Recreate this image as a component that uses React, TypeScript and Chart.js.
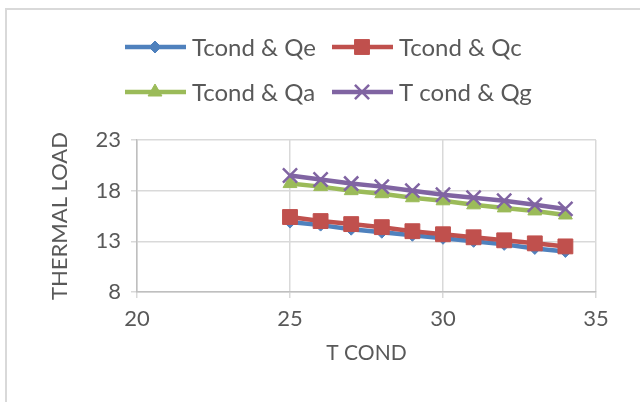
import React, { useEffect, useRef } from "react";
import { Chart, registerables } from "chart.js";
import { drawPoint } from "chart.js/helpers";

Chart.register(...registerables);

const tCond = [25, 26, 27, 28, 29, 30, 31, 32, 33, 34];
const qe = [14.9, 14.6, 14.2, 13.9, 13.6, 13.3, 13.0, 12.7, 12.3, 12.0];
const qc = [15.4, 15.0, 14.7, 14.4, 14.0, 13.7, 13.4, 13.1, 12.8, 12.5];
const qa = [18.7, 18.4, 18.0, 17.7, 17.3, 17.0, 16.6, 16.3, 16.0, 15.6];
const qg = [19.5, 19.1, 18.7, 18.4, 18.0, 17.6, 17.3, 17.0, 16.6, 16.2];
const seriesNames = ["Tcond & Qe", "Tcond & Qc", "Tcond & Qa", "T cond & Qg"];
const xTicks = [20, 25, 30, 35];
const yTicks = [8, 13, 18, 23];

const FONT = "Lato, 'Open Sans', sans-serif";
const TEXT = "#595959";

const legendPlugin = {
  id: "excelLegend",
  afterDraw(chart: any) {
    const ctx = chart.ctx;
    const cols = [125, 332];
    const rows = [47, 92];
    ctx.save();
    ctx.font = `24px ${FONT}`;
    ctx.textBaseline = "middle";
    ctx.textAlign = "left";
    chart.data.datasets.forEach((ds: any, i: number) => {
      const x = cols[i % 2];
      const y = rows[Math.floor(i / 2)];
      ctx.strokeStyle = ds.borderColor;
      ctx.lineWidth = 4.5;
      ctx.beginPath();
      ctx.moveTo(x, y);
      ctx.lineTo(x + 61, y);
      ctx.stroke();
      ctx.fillStyle = ds.pointBackgroundColor;
      ctx.strokeStyle = ds.pointBorderColor;
      ctx.lineWidth = ds.pointBorderWidth;
      drawPoint(ctx, { pointStyle: ds.pointStyle, radius: ds.pointRadius, borderWidth: ds.pointBorderWidth, rotation: 0 }, x + 30, y);
      ctx.fillStyle = TEXT;
      ctx.fillText(ds.label, x + 67, y + 1);
    });
    ctx.restore();
  },
};

export default function App() {
  const ref = useRef<HTMLCanvasElement>(null);
  useEffect(() => {
    const mk = (label: string, vals: number[], color: string, style: string, r: number, order: number, bw = 1) => ({
      label,
      data: tCond.map((x, i) => ({ x, y: vals[i] })),
      borderColor: color,
      backgroundColor: color,
      pointBackgroundColor: color,
      pointBorderColor: color,
      pointBorderWidth: bw,
      borderWidth: 4.5,
      pointStyle: style,
      pointRadius: r,
      order,
    });
    const chart = new Chart(ref.current!, {
      type: "line",
      data: {
        datasets: [
          mk(seriesNames[0], qe, "#4F81BD", "rectRot", 6, 4),
          mk(seriesNames[1], qc, "#C0504D", "rect", 10.5, 3),
          mk(seriesNames[2], qa, "#9BBB59", "triangle", 8, 2),
          mk(seriesNames[3], qg, "#8064A2", "crossRot", 10, 1, 2.5),
        ] as any,
      },
      options: {
        animation: false,
        responsive: false,
        maintainAspectRatio: false,
        layout: { padding: { top: 140, left: 47, right: 44, bottom: 36 } },
        plugins: { legend: { display: false }, tooltip: { enabled: false } },
        scales: {
          x: {
            type: "linear",
            min: 20,
            max: 35,
            afterBuildTicks: (s: any) => { s.ticks = xTicks.map((v) => ({ value: v })); },
            afterFit: (s: any) => { s.height = 74; },
            ticks: { color: TEXT, font: { family: FONT, size: 22 }, padding: 8 },
            grid: { color: "#d9d9d9", tickLength: 6, lineWidth: 1.5 },
            border: { color: "#bfbfbf", width: 1.5 },
            title: { display: true, text: "T COND", color: TEXT, font: { family: FONT, size: 21 }, padding: { top: 4, bottom: 0 } },
          },
          y: {
            type: "linear",
            min: 8,
            max: 23,
            afterBuildTicks: (s: any) => { s.ticks = yTicks.map((v) => ({ value: v })); },
            afterFit: (s: any) => { s.width = 90; },
            ticks: { color: TEXT, font: { family: FONT, size: 22 }, padding: 10 },
            grid: { color: "#d9d9d9", tickLength: 6, lineWidth: 1.5 },
            border: { color: "#bfbfbf", width: 1.5 },
            title: { display: true, text: "THERMAL LOAD", color: TEXT, font: { family: FONT, size: 22 }, padding: { top: 0, bottom: 4 } },
          },
        },
      },
      plugins: [legendPlugin],
    });
    return () => chart.destroy();
  }, []);
  return (
    <div style={{ position: "fixed", left: 0, top: 0, width: 640, height: 402, background: "#fff" }}>
      <div style={{ position: "absolute", left: 5, top: 8, width: 640, height: 400, borderLeft: "2px solid #d9d9d9", borderTop: "2px solid #d9d9d9" }} />
      <canvas ref={ref} width={640} height={402} style={{ position: "absolute", left: 0, top: 0 }} />
    </div>
  );
}
